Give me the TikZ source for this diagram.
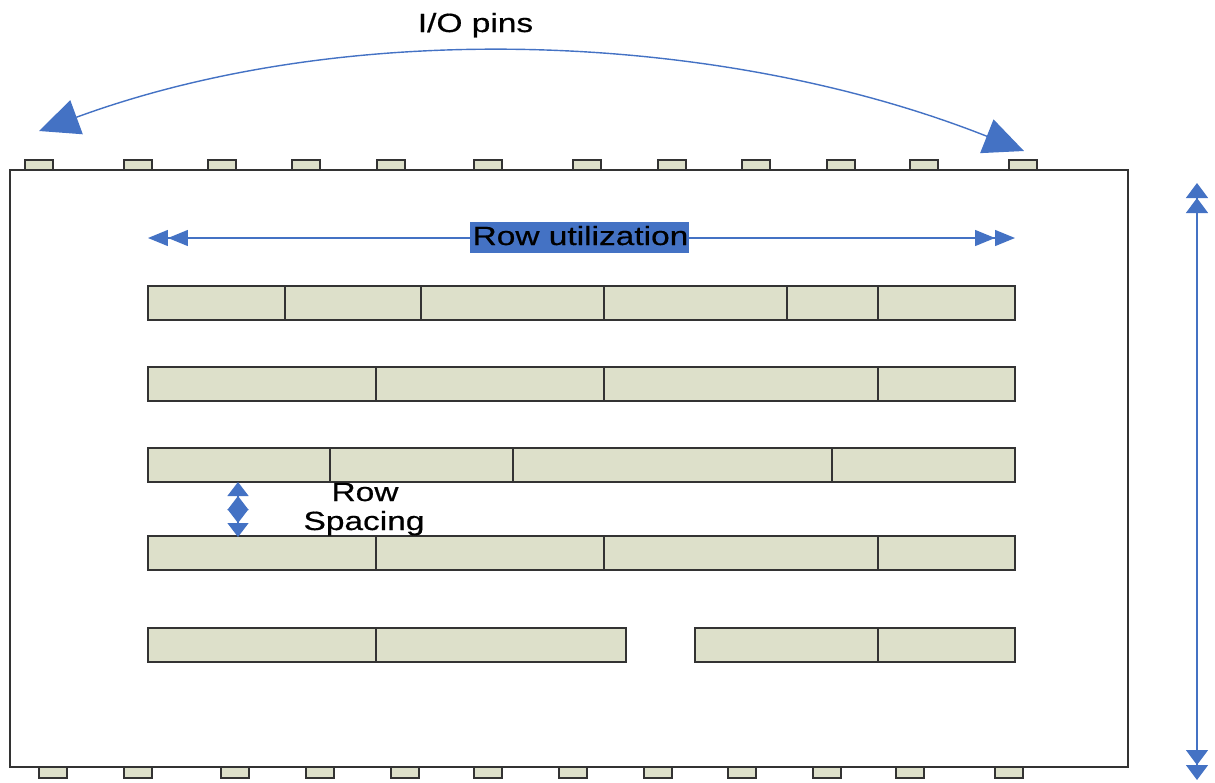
\documentclass[tikz,border=0pt]{standalone}
\usepackage{fontspec}
\setmainfont{Liberation Sans}
\usepackage{graphicx}
\usetikzlibrary{arrows.meta}

\definecolor{cell_fill}{HTML}{DDE0CA}
\definecolor{arrow_blue}{HTML}{4472C4}
\definecolor{edge_gray}{HTML}{333333}
\newcommand{\widetext}[1]{\scalebox{1.27}[1]{#1}}

\tikzset{pin_style/.style={rectangle, draw=edge_gray, fill=cell_fill, line width=0.9pt, minimum width=0.56cm, minimum height=0.21cm, inner sep=0pt}}
\tikzset{row_style/.style={draw=edge_gray, fill=cell_fill, line width=0.6pt}}
\tikzset{cut_style/.style={draw=edge_gray, line width=0.6pt}}
\tikzset{txt_style/.style={font=\fontsize{15}{17}\selectfont\addfontfeature{FakeBold=0.5}, text=black, inner sep=0pt, anchor=base}}

\begin{document}
\begin{tikzpicture}[x=0.02cm, y=-0.02cm]
    \useasboundingbox (0,0) rectangle (1215,782);

    % die
    \draw[edge_gray, line width=1.1pt, fill=white] (10,170) rectangle (1128,767);

    % pins on top
    \node[pin_style] (t1) at (39,165) {};
    \node[pin_style] (t2) at (138,165) {};
    \node[pin_style] (t3) at (222,165) {};
    \node[pin_style] (t4) at (306,165) {};
    \node[pin_style] (t5) at (391,165) {};
    \node[pin_style] (t6) at (488,165) {};
    \node[pin_style] (t7) at (587,165) {};
    \node[pin_style] (t8) at (672,165) {};
    \node[pin_style] (t9) at (756,165) {};
    \node[pin_style] (t10) at (841,165) {};
    \node[pin_style] (t11) at (924,165) {};
    \node[pin_style] (t12) at (1023,165) {};

    % pins at the bottom
    \node[pin_style] (b1) at (53,772.5) {};
    \node[pin_style] (b2) at (138,772.5) {};
    \node[pin_style] (b3) at (235,772.5) {};
    \node[pin_style] (b4) at (320,772.5) {};
    \node[pin_style] (b5) at (405,772.5) {};
    \node[pin_style] (b6) at (488,772.5) {};
    \node[pin_style] (b7) at (573,772.5) {};
    \node[pin_style] (b8) at (658,772.5) {};
    \node[pin_style] (b9) at (742,772.5) {};
    \node[pin_style] (b10) at (827,772.5) {};
    \node[pin_style] (b11) at (910,772.5) {};
    \node[pin_style] (b12) at (1009,772.5) {};

    % rows
    \draw[row_style] (148,286) rectangle (1015,320);
    \draw[cut_style] (285,286) -- (285,320);
    \draw[cut_style] (421,286) -- (421,320);
    \draw[cut_style] (604,286) -- (604,320);
    \draw[cut_style] (787,286) -- (787,320);
    \draw[cut_style] (878,286) -- (878,320);

    \draw[row_style] (148,367) rectangle (1015,401);
    \draw[cut_style] (376,367) -- (376,401);
    \draw[cut_style] (604,367) -- (604,401);
    \draw[cut_style] (878,367) -- (878,401);

    \draw[row_style] (148,448) rectangle (1015,482);
    \draw[cut_style] (330,448) -- (330,482);
    \draw[cut_style] (513,448) -- (513,482);
    \draw[cut_style] (832,448) -- (832,482);

    \draw[row_style] (148,536) rectangle (1015,570);
    \draw[cut_style] (376,536) -- (376,570);
    \draw[cut_style] (604,536) -- (604,570);
    \draw[cut_style] (878,536) -- (878,570);

    \draw[row_style] (148,628) rectangle (626,662);
    \draw[cut_style] (376,628) -- (376,662);
    \draw[row_style] (695,628) rectangle (1015,662);
    \draw[cut_style] (878,628) -- (878,662);

    % arrows
    \coordinate (io_l) at (39,131);
    \coordinate (io_r) at (1024,151);
    \coordinate (util_l) at (148,238);
    \coordinate (util_r) at (1015,238);
    \coordinate (sp_t) at (238,482);
    \coordinate (sp_b) at (238,537);
    \coordinate (h_t) at (1197,183);
    \coordinate (h_b) at (1197,780);

    \draw[arrow_blue, line width=0.8pt, {Triangle[length=0.8cm, width=0.72cm]}-{Triangle[length=0.8cm, width=0.72cm]}] (io_l) .. controls (352,16) and (724,32) .. (io_r);
    \draw[arrow_blue, line width=0.8pt, {Triangle[length=0.4cm, width=0.32cm, sep=0pt]Triangle[length=0.4cm, width=0.32cm, sep=0pt]}-{Triangle[length=0.4cm, width=0.32cm, sep=0pt]Triangle[length=0.4cm, width=0.32cm, sep=0pt]}] (util_l) -- (util_r);
    \draw[arrow_blue, line width=0.8pt, {Triangle[length=0.28cm, width=0.42cm, sep=0pt]Triangle[length=0.28cm, width=0.42cm, sep=0pt]}-{Triangle[length=0.28cm, width=0.42cm, sep=0pt]Triangle[length=0.28cm, width=0.42cm, sep=0pt]}] (sp_t) -- (sp_b);
    \draw[arrow_blue, line width=0.8pt, {Triangle[length=0.3cm, width=0.44cm, sep=0pt]Triangle[length=0.3cm, width=0.44cm, sep=0pt]}-{Triangle[length=0.3cm, width=0.44cm, sep=0pt]Triangle[length=0.3cm, width=0.44cm, sep=0pt]}] (h_t) -- (h_b);

    % labels
    \node[rectangle, fill=arrow_blue, minimum width=4.38cm, minimum height=0.62cm, inner sep=0pt] (util_box) at (579.5,237.5) {};
    \node[txt_style] (util) at (580.5,245) {\widetext{Row utilization}};
    \node[txt_style] (io) at (475.5,32) {\widetext{I/O pins}};
    \node[txt_style] (sp1) at (365,501) {\widetext{Row}};
    \node[txt_style] (sp2) at (364,530) {\widetext{Spacing}};

\end{tikzpicture}
\end{document}
